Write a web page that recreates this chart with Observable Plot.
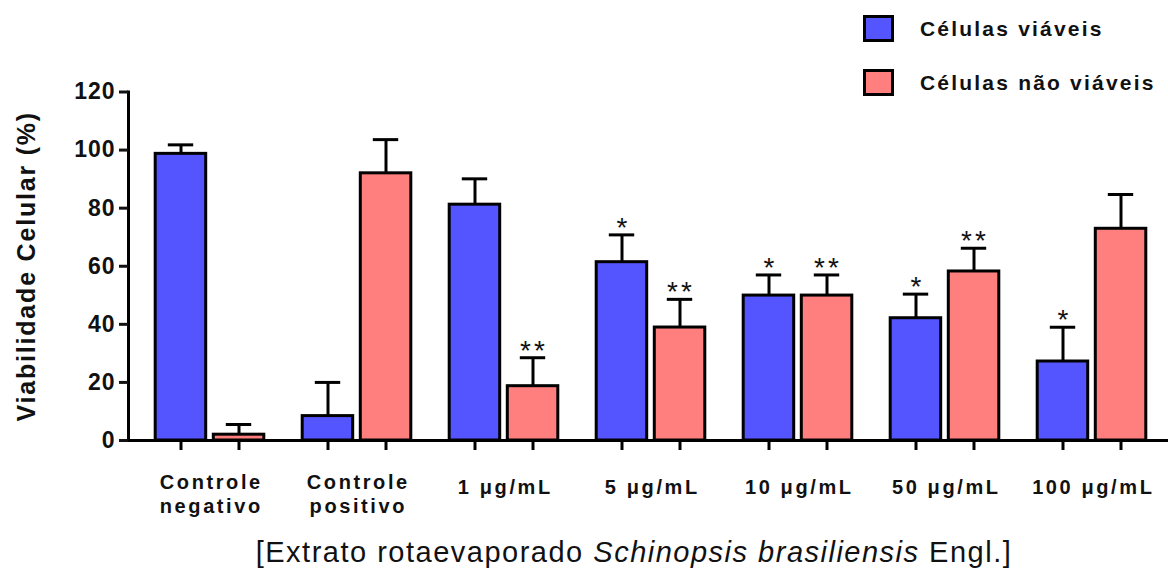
<!DOCTYPE html>
<html><head><meta charset="utf-8">
<script src="https://cdn.jsdelivr.net/npm/d3@7"></script>
<script src="https://cdn.jsdelivr.net/npm/@observablehq/plot@0.6"></script>
<style>
body{margin:0;background:#fff;font-family:"Liberation Sans",Arial,sans-serif;}
#wrap{position:relative;width:1168px;height:574px;overflow:hidden;background:#fff;}
#wrap svg{position:absolute;left:0;top:0;}
.leg{position:absolute;left:863px;display:flex;align-items:center;font-weight:bold;font-size:21px;letter-spacing:2.2px;color:#111;}
.leg .sw{width:25px;height:21px;border:3px solid #000;margin-right:26px;}
#xtitle{position:absolute;left:0;width:1268px;top:536px;text-align:center;font-size:29px;line-height:32px;letter-spacing:1.5px;color:#111;}
</style></head><body>
<div id="wrap"></div>
<script>
const groups = ["Controle\nnegativo", "Controle\npositivo", "1 μg/mL", "5 μg/mL", "10 μg/mL", "50 μg/mL", "100 μg/mL"];
const viaveis = [98.7, 8.4, 81.2, 61.4, 49.9, 42.1, 27.2];
const viaveisSD = [3.1, 11.6, 8.9, 9.4, 7.1, 8.3, 11.8];
const naoViaveis = [2.0, 92.0, 18.7, 38.9, 49.9, 58.2, 72.9];
const naoViaveisSD = [3.5, 11.6, 9.8, 9.7, 7.1, 8.0, 11.8];
const sigViaveis = ["", "", "", "*", "*", "*", "*"];
const sigNao = ["", "", "**", "**", "**", "**", ""];
const yTicks = [0, 20, 40, 60, 80, 100, 120];
const seriesNames = ["Células viáveis", "Células não viáveis"];
const colors = ["#5555FF", "#FF7F7F"];
const yTitle = "Viabilidade Celular (%)";

const viav = groups.map((g, i) => ({group: g, value: viaveis[i], sd: viaveisSD[i], sig: sigViaveis[i]}));
const nao = groups.map((g, i) => ({group: g, value: naoViaveis[i], sd: naoViaveisSD[i], sig: sigNao[i]}));
const OFF = 29;
const font = "'Liberation Sans', Arial, sans-serif";

const plot = Plot.plot({
  width: 1168,
  height: 530,
  marginLeft: 128,
  marginRight: 0,
  marginTop: 91.5,
  marginBottom: 90,
  style: {fontFamily: font, background: "#fff", color: "#111"},
  x: {domain: groups, paddingInner: 0.248, paddingOuter: 0.157, align: 0.54, axis: null},
  y: {domain: [0, 120], axis: null},
  marks: [
    Plot.barY(viav, {x: "group", y: "value", fill: colors[0], stroke: "#000", strokeWidth: 3, insetLeft: 1.2, insetRight: 59.3}),
    Plot.barY(nao, {x: "group", y: "value", fill: colors[1], stroke: "#000", strokeWidth: 3, insetLeft: 59.3, insetRight: 1.2}),
    Plot.ruleX(viav, {x: "group", y1: "value", y2: d => d.value + d.sd, dx: -OFF, stroke: "#000", strokeWidth: 3}),
    Plot.ruleX(nao, {x: "group", y1: "value", y2: d => d.value + d.sd, dx: OFF, stroke: "#000", strokeWidth: 3}),
    Plot.tickY(viav, {x: "group", y: d => d.value + d.sd, dx: -OFF, insetLeft: 42.8, insetRight: 42.8, stroke: "#000", strokeWidth: 3}),
    Plot.tickY(nao, {x: "group", y: d => d.value + d.sd, dx: OFF, insetLeft: 42.8, insetRight: 42.8, stroke: "#000", strokeWidth: 3}),
    Plot.text(viav, {x: "group", y: d => d.value + d.sd, text: "sig", dx: -OFF, dy: 2, lineAnchor: "bottom", fontSize: 28, fill: "#111"}),
    Plot.text(nao, {x: "group", y: d => d.value + d.sd, text: "sig", dx: OFF + 1, dy: 2, lineAnchor: "bottom", fontSize: 28, fill: "#111"}),
    Plot.ruleY([0], {stroke: "#000", strokeWidth: 3}),
    Plot.frame({anchor: "left", stroke: "#000", strokeWidth: 3}),
    Plot.ruleX(viav, {x: "group", y1: 0, y2: 0, insetBottom: -10, dx: -OFF, stroke: "#000", strokeWidth: 3}),
    Plot.ruleX(nao, {x: "group", y1: 0, y2: 0, insetBottom: -10, dx: OFF, stroke: "#000", strokeWidth: 3}),
    Plot.axisY({ticks: yTicks, tickSize: 9, tickPadding: 4, fontSize: 23, fontWeight: "bold", strokeWidth: 3, label: null}),
    Plot.text(groups.slice(0, 2), {x: d => d, frameAnchor: "bottom", textAnchor: "middle", lineAnchor: "top", lineHeight: 1.165, dy: 32.2, dx: 1.3, fontSize: 20, fontWeight: "bold", fill: "#111"}),
    Plot.text(groups.slice(2), {x: d => d, frameAnchor: "bottom", textAnchor: "middle", lineAnchor: "top", dy: 39.5, dx: 1.3, fontSize: 20, fontWeight: "bold", fill: "#111"}),
    Plot.text([yTitle], {frameAnchor: "left", textAnchor: "middle", lineAnchor: "middle", rotate: -90, dx: -102, fontSize: 25, fontWeight: "bold", fill: "#111"})
  ]
});

const wrap = document.getElementById("wrap");
wrap.appendChild(plot);
const xLabelSet = new Set(groups.map(g => g.replace(/\n/g, "")));
const tickSet = new Set(yTicks.map(String));
plot.querySelectorAll("text").forEach(t => {
  const s = t.textContent;
  if (xLabelSet.has(s)) t.style.letterSpacing = "2.6px";
  else if (s === yTitle) t.style.letterSpacing = "1.8px";
  else if (tickSet.has(s)) t.style.letterSpacing = "1px";
  else if (s === "**") t.style.letterSpacing = "3px";
});

seriesNames.forEach((name, i) => {
  const d = document.createElement("div");
  d.className = "leg";
  d.style.top = (i === 0 ? 15 : 69) + "px";
  const sw = document.createElement("div");
  sw.className = "sw";
  sw.style.background = colors[i];
  const t = document.createElement("span");
  t.textContent = name;
  d.appendChild(sw); d.appendChild(t);
  wrap.appendChild(d);
});

const xt = document.createElement("div");
xt.id = "xtitle";
xt.innerHTML = "[Extrato rotaevaporado <i>Schinopsis brasiliensis</i> Engl.]";
wrap.appendChild(xt);
</script>
</body></html>
